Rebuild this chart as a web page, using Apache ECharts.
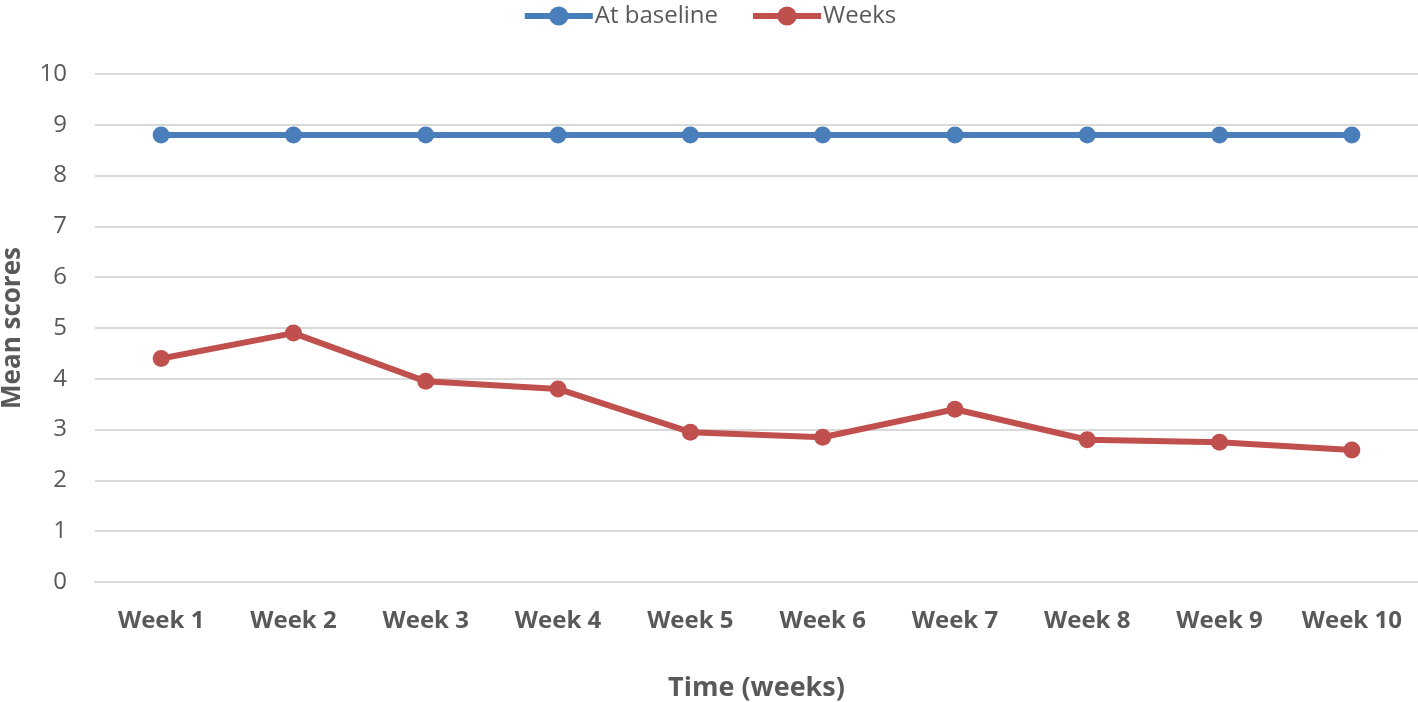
<!DOCTYPE html>
<html><head><meta charset="utf-8">
<script src="https://cdn.jsdelivr.net/npm/echarts@6/dist/echarts.min.js"></script>
<style>html,body{margin:0;padding:0;background:#fff}#c{width:1418px;height:702px}</style>
</head><body><div id="c"></div>
<script>
const categories = ['Week 1','Week 2','Week 3','Week 4','Week 5','Week 6','Week 7','Week 8','Week 9','Week 10'];
const baseline = [8.8,8.8,8.8,8.8,8.8,8.8,8.8,8.8,8.8,8.8];
const weeks = [4.4,4.9,3.95,3.8,2.95,2.85,3.4,2.8,2.75,2.6];
const seriesNames = ['At baseline','Weeks'];
const FONT = '"Open Sans", "Liberation Sans", sans-serif';
const chart = echarts.init(document.getElementById('c'));
chart.setOption({
  animation:false,
  backgroundColor:'#fff',
  color:['#4A7EBB','#C0504D'],
  textStyle:{fontFamily:FONT},
  legend:{
    top:-1, left:'center', itemWidth:68, itemHeight:24, itemGap:32,
    lineStyle:{width:6},
    textStyle:{fontSize:24, color:'#595959', fontFamily:FONT, padding:[0,0,0,-3]},
    data:seriesNames
  },
  grid:{left:95, right:0, top:74, bottom:120, outerBoundsMode:'none', containLabel:false},
  xAxis:{
    type:'category', data:categories, boundaryGap:true,
    axisLine:{show:true, lineStyle:{color:'#D9D9D9', width:2}},
    axisTick:{show:false},
    axisLabel:{fontSize:24, fontWeight:'bold', color:'#595959', margin:27, fontFamily:FONT},
    name:'Time (weeks)', nameLocation:'middle', nameGap:93,
    nameTextStyle:{fontSize:27, fontWeight:'bold', color:'#595959', fontFamily:FONT}
  },
  yAxis:{
    type:'value', min:0, max:10, interval:1,
    axisLine:{show:false}, axisTick:{show:false},
    splitLine:{lineStyle:{color:'#D9D9D9', width:2}},
    axisLabel:{fontSize:24, color:'#595959', margin:28, fontFamily:FONT},
    name:'Mean scores', nameLocation:'middle', nameGap:69,
    nameTextStyle:{fontSize:26, fontWeight:'bold', color:'#595959', fontFamily:FONT}
  },
  series:[
    {name:seriesNames[0], type:'line', data:baseline, symbol:'circle', symbolSize:17,
     lineStyle:{width:6}, itemStyle:{color:'#4A7EBB'}},
    {name:seriesNames[1], type:'line', data:weeks, symbol:'circle', symbolSize:17,
     lineStyle:{width:6}, itemStyle:{color:'#C0504D'}}
  ]
});
</script></body></html>
